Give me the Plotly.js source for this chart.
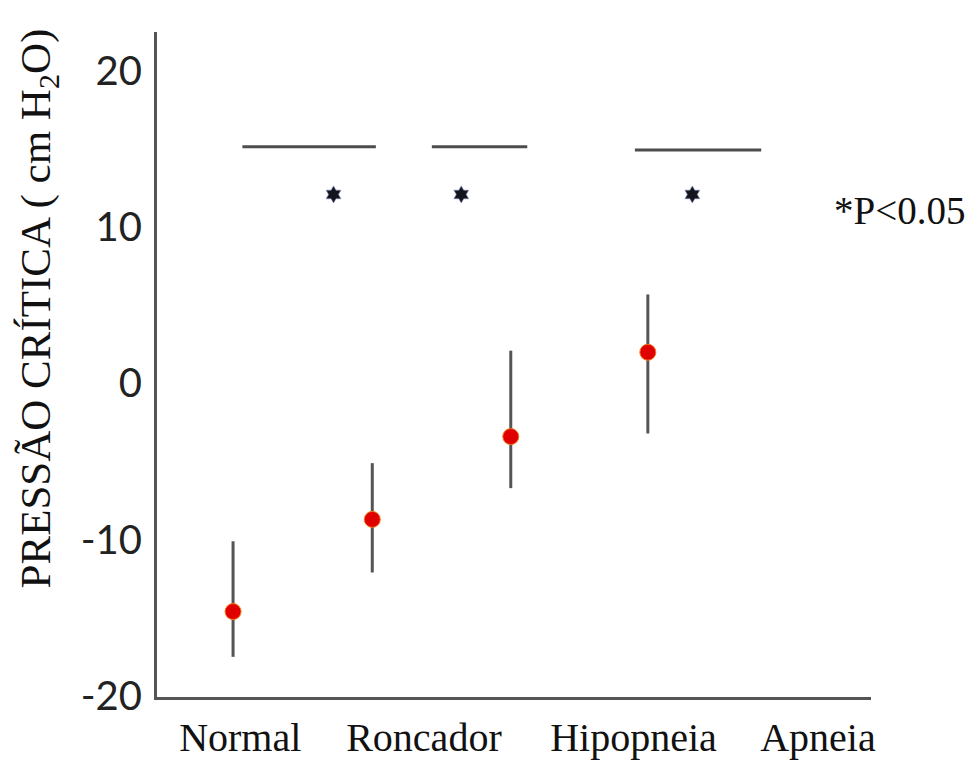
<!DOCTYPE html>
<html><head><meta charset="utf-8">
<script src="https://cdn.plot.ly/plotly-3.0.1.min.js"></script>
<style>html,body{margin:0;padding:0;background:#fff}</style>
</head><body>
<div id="chart" style="width:971px;height:760px"></div>
<script>
// Data
const groups = ["Normal", "Roncador", "Hipopneia", "Apneia"];
const groupX = [1.06, 3.0, 4.93, 6.84];          // horizontal position of each point
const meanValues = [-14.6, -8.7, -3.4, 2.0];
const upperValues = [-10.1, -5.1, 2.1, 5.7];
const lowerValues = [-17.5, -12.1, -6.7, -3.2];
const labelX = [1.16, 3.72, 6.64, 9.21];          // positions of the category labels
const yTicks = [-20, -10, 0, 10, 20];
const sigStart = [1.19, 3.83, 6.66];
const sigEnd = [3.05, 5.16, 8.42];
const sigLevel = [15.15, 15.15, 14.95];
const starX = [2.46, 4.24, 7.46];
const starY = [12.1, 12.1, 12.1];

const traces = [];
// significance bars
for (let i = 0; i < sigStart.length; i++) {
  traces.push({x: [sigStart[i], sigEnd[i]], y: [sigLevel[i], sigLevel[i]], mode: 'lines',
    line: {color: '#4d4d4d', width: 3}, hoverinfo: 'skip', showlegend: false});
}
traces.push({x: starX, y: starY, mode: 'markers', marker: {symbol: 'hexagram', size: 13, color: '#14141e',
  line: {color: '#7d8fb8', width: 0.6}}, showlegend: false, hoverinfo: 'skip'});
// points with error bars
traces.push({
  x: groupX, y: meanValues, mode: 'markers', type: 'scatter', showlegend: false,
  text: groups,
  error_y: {type: 'data', symmetric: false,
    array: upperValues.map((u, i) => u - meanValues[i]),
    arrayminus: meanValues.map((m, i) => m - lowerValues[i]),
    color: '#555', thickness: 3, width: 0},
  marker: {color: '#e00000', size: 16, line: {color: '#f07a1a', width: 1}}
});

const layout = {
  width: 971, height: 760,
  margin: {l: 157, r: 100, t: 32, b: 63},
  paper_bgcolor: '#fff', plot_bgcolor: '#fff',
  showlegend: false,
  xaxis: {range: [0, 9.95], showgrid: false, zeroline: false, showline: true, linecolor: '#555', linewidth: 3,
    tickmode: 'array', tickvals: labelX, ticktext: groups, ticks: '',
    ticklabelstandoff: 3,
    tickfont: {family: 'Liberation Serif', size: 40, color: '#111'}},
  yaxis: {range: [-20.07, 22.5], showgrid: false, zeroline: false, showline: true, linecolor: '#555', linewidth: 3,
    tickmode: 'array', tickvals: yTicks, ticktext: yTicks.map(String), ticks: '',
    ticklabelstandoff: 4,
    tickfont: {family: 'Lato', size: 40, color: '#222'}},
  annotations: [
    {text: 'PRESSÃO CRÍTICA ( cm H<sub>2</sub>O)', xref: 'paper', yref: 'paper', x: -0.166, y: 0.585,
     textangle: -90, showarrow: false, xanchor: 'center', yanchor: 'middle',
     font: {family: 'Liberation Serif', size: 43, color: '#111'}},
    {text: '*P<0.05', xref: 'paper', yref: 'y', x: 1.04, y: 11.1, showarrow: false,
     xanchor: 'center', yanchor: 'middle', font: {family: 'Liberation Serif', size: 39, color: '#111'}}
  ]
};
Plotly.newPlot('chart', traces, layout, {displayModeBar: false, staticPlot: true});
</script>
</body></html>
